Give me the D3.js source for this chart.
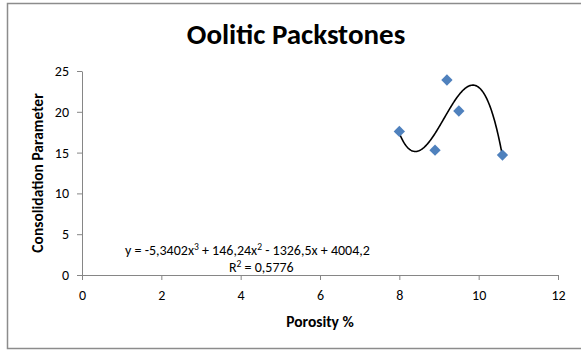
<!DOCTYPE html>
<html>
<head>
<meta charset="utf-8">
<script src="https://cdn.jsdelivr.net/npm/d3@7"></script>
<style>
  html, body { margin: 0; padding: 0; background: #fff; }
  svg { display: block; }
  text { font-family: Carlito, Calibri, Lato, "Open Sans", sans-serif; fill: #000; }
</style>
</head>
<body>
<svg id="chart" width="581" height="351"></svg>
<script>
// Porosity (%) and consolidation parameter for the oolitic packstone samples
const porosity = [8.0, 8.9, 9.2, 9.5, 10.6];
const consolidation = [17.6, 15.3, 23.9, 20.1, 14.7];

// Cubic trendline coefficients (highest power first) and its fit quality
const trendCoefs = [-5.3402, 146.24, -1326.5, 4004.2];
const rSquared = 0.5776;

const xTicks = [0, 2, 4, 6, 8, 10, 12];
const yTicks = [0, 5, 10, 15, 20, 25];

const svg = d3.select("#chart");
const W = 581;

// outer chart frame
svg.append("rect")
  .attr("x", 7.5).attr("y", 3.5)
  .attr("width", W).attr("height", 345)
  .attr("fill", "#fff")
  .attr("stroke", "#8c8c8c").attr("stroke-width", 1.5);

const x = d3.scaleLinear().domain([0, 12]).range([82, 558]);
const y = d3.scaleLinear().domain([0, 25]).range([275, 71]);

// title
svg.append("text")
  .attr("x", 296).attr("y", 44)
  .attr("text-anchor", "middle")
  .style("font-size", "29px").style("font-weight", "bold")
  .text("Oolitic Packstones");

// axes
const axisColor = "#868686";
const xAxis = svg.append("g")
  .attr("transform", `translate(0,${y(0)})`)
  .call(d3.axisBottom(x).tickValues(xTicks).tickSize(5).tickPadding(10).tickSizeOuter(0));
const yAxis = svg.append("g")
  .attr("transform", `translate(${x(0)},0)`)
  .call(d3.axisLeft(y).tickValues(yTicks).tickSize(5).tickPadding(8).tickSizeOuter(0));
[xAxis, yAxis].forEach(g => {
  g.select(".domain").attr("stroke", axisColor);
  g.selectAll(".tick line").attr("stroke", axisColor);
  g.selectAll(".tick text")
    .style("font-size", "14px")
    .style("font-family", "Carlito, Calibri, Lato, 'Open Sans', sans-serif")
    .attr("fill", "#000");
});

// axis titles
svg.append("text")
  .attr("x", x(6)).attr("y", 327)
  .attr("text-anchor", "middle")
  .style("font-size", "15.5px").style("font-weight", "bold")
  .text("Porosity %");
svg.append("text")
  .attr("transform", `translate(43,${y(12.5)}) rotate(-90)`)
  .attr("text-anchor", "middle")
  .style("font-size", "15.5px").style("font-weight", "bold")
  .text("Consolidation Parameter");

// cubic trendline over the observed porosity range
const poly = v => trendCoefs.reduce((acc, c) => acc * v + c, 0);
const [xmin, xmax] = d3.extent(porosity);
const curvePts = d3.range(0, 201).map(i => {
  const v = xmin + (xmax - xmin) * i / 200;
  return [v, poly(v)];
});
svg.append("path")
  .datum(curvePts)
  .attr("fill", "none")
  .attr("stroke", "#000")
  .attr("stroke-width", 1.6)
  .attr("d", d3.line().x(d => x(d[0])).y(d => y(d[1])).curve(d3.curveLinear));

// sample markers (diamonds)
const diamond = d3.symbol().type(d3.symbolSquare).size(64);
svg.append("g").selectAll("path")
  .data(porosity.map((p, i) => [p, consolidation[i]]))
  .join("path")
  .attr("d", diamond)
  .attr("transform", d => `translate(${x(d[0])},${y(d[1])}) rotate(45)`)
  .attr("fill", "#4f81bd");

// trendline equation and R²
const fmt = v => String(v).replace(".", ",");
const eq = svg.append("text")
  .attr("x", 125).attr("y", 255)
  .style("font-size", "14px");
const sup = (t, s) => t.append("tspan").attr("dy", -5).style("font-size", "9.5px").text(s);
const base = (t, s) => t.append("tspan").attr("dy", 5).text(s);
eq.append("tspan").text(`y = ${fmt(trendCoefs[0])}x`);
sup(eq, "3");
base(eq, ` + ${fmt(trendCoefs[1])}x`);
sup(eq, "2");
base(eq, ` - ${fmt(-trendCoefs[2])}x + ${fmt(trendCoefs[3])}`);

const r2 = svg.append("text")
  .attr("x", 229).attr("y", 272)
  .style("font-size", "14px");
r2.append("tspan").text("R");
sup(r2, "2");
base(r2, ` = ${fmt(rSquared)}`);
</script>
</body>
</html>
